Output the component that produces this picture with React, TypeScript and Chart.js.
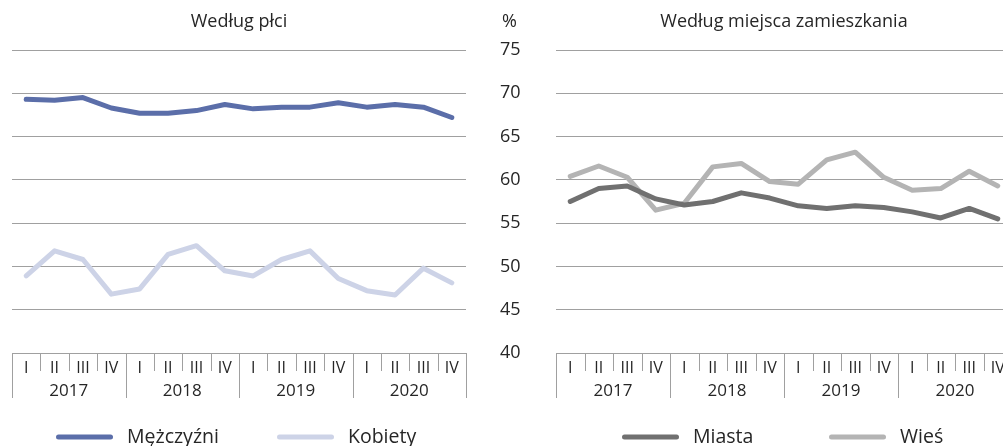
import React, { useEffect, useRef } from 'react';
import { Chart, registerables } from 'chart.js';

Chart.register(...registerables);

const quarters = ['I', 'II', 'III', 'IV', 'I', 'II', 'III', 'IV', 'I', 'II', 'III', 'IV', 'I', 'II', 'III', 'IV'];
const years = ['2017', '2018', '2019', '2020'];

const menValues = [69.3, 69.2, 69.5, 68.3, 67.7, 67.7, 68.0, 68.7, 68.2, 68.4, 68.4, 68.9, 68.4, 68.7, 68.4, 67.2];
const womenValues = [48.9, 51.8, 50.8, 46.8, 47.4, 51.4, 52.4, 49.5, 48.9, 50.8, 51.8, 48.6, 47.2, 46.7, 49.8, 48.1];
const cityValues = [57.5, 59.0, 59.3, 57.8, 57.1, 57.5, 58.5, 57.9, 57.0, 56.7, 57.0, 56.8, 56.3, 55.6, 56.7, 55.5];
const ruralValues = [60.4, 61.6, 60.3, 56.5, 57.3, 61.5, 61.9, 59.8, 59.5, 62.3, 63.2, 60.3, 58.8, 59.0, 61.0, 59.3];

const yMin = 40;
const yMax = 75;
const yStep = 5;

const FONT = '"Open Sans", "Noto Sans", "DejaVu Sans", sans-serif';
const TEXT = '#262626';
const GRID = '#a0a0a0';

type Series = { label: string; data: number[]; color: string; legendX: number };

type PanelOpts = {
  title: string;
  series: Series[];
  showY: boolean;
  padLeft: number;
  padRight: number;
  yWidth: number;
  width: number;
};

function makeDecor(opts: PanelOpts) {
  return {
    id: 'decor',
    afterDraw(chart: any) {
      const ctx = chart.ctx as CanvasRenderingContext2D;
      const { left, right, bottom } = chart.chartArea;
      const xs = chart.scales.x;
      const n = quarters.length;
      const w = (right - left) / n;
      ctx.save();
      // category box dividers
      ctx.strokeStyle = GRID;
      ctx.lineWidth = 1;
      for (let i = 0; i <= n; i++) {
        const x = Math.round(left + i * w) + 0.5;
        const len = i % 4 === 0 ? 45 : 18;
        ctx.beginPath();
        ctx.moveTo(x, bottom);
        ctx.lineTo(x, bottom + len);
        ctx.stroke();
      }
      // quarter labels
      ctx.fillStyle = TEXT;
      ctx.textAlign = 'center';
      ctx.textBaseline = 'middle';
      ctx.font = `16px ${FONT}`;
      quarters.forEach((q, i) => {
        ctx.fillText(q, xs.getPixelForValue(i), bottom + 15);
      });
      ctx.font = `17px ${FONT}`;
      years.forEach((yr, j) => {
        const cx = left + (j * 4 + 2) * w;
        ctx.fillText(yr, cx, bottom + 38);
      });
      // title
      ctx.font = `18px ${FONT}`;
      ctx.fillText(opts.title, (left + right) / 2, 22);
      if (opts.showY) {
        ctx.textAlign = 'left';
        ctx.font = `18px ${FONT}`;
        ctx.fillText('%', 2, 22);
      }
      // legend
      ctx.font = `19.5px ${FONT}`;
      ctx.textAlign = 'left';
      opts.series.forEach((s) => {
        const x0 = left + s.legendX;
        ctx.strokeStyle = s.color;
        ctx.lineWidth = 5;
        ctx.lineCap = 'round';
        ctx.beginPath();
        ctx.moveTo(x0 + 2.5, 437);
        ctx.lineTo(x0 + 54.5, 437);
        ctx.stroke();
        ctx.fillStyle = TEXT;
        ctx.fillText(s.label, x0 + 71, 437);
      });
      ctx.restore();
    },
  };
}

function Panel(props: { opts: PanelOpts; left: number }) {
  const ref = useRef<HTMLCanvasElement | null>(null);
  useEffect(() => {
    const canvas = ref.current;
    if (!canvas) return;
    const o = props.opts;
    const chart = new Chart(canvas, {
      type: 'line',
      data: {
        labels: quarters,
        datasets: o.series.map((s) => ({
          label: s.label,
          data: s.data,
          borderColor: s.color,
          backgroundColor: s.color,
          borderWidth: 5,
          pointRadius: 0,
          tension: 0,
          borderJoinStyle: 'round' as const,
          borderCapStyle: 'round' as const,
        })),
      },
      options: {
        animation: false,
        responsive: false,
        devicePixelRatio: 1,
        layout: { padding: { left: o.padLeft, right: o.padRight, top: 50, bottom: 93 } },
        plugins: {
          legend: { display: false },
          title: { display: false },
          tooltip: { enabled: false },
        },
        scales: {
          x: { type: 'category', offset: true, display: false },
          y: {
            min: yMin,
            max: yMax,
            ticks: {
              stepSize: yStep,
              display: o.showY,
              color: TEXT,
              font: { family: FONT, size: 18 },
              crossAlign: 'far',
              padding: 0,
            },
            grid: { color: GRID, lineWidth: 1, drawTicks: false },
            border: { display: false },
            afterFit: (s: any) => {
              s.width = o.yWidth;
            },
          },
        },
      },
      plugins: [makeDecor(o)],
    } as any);
    return () => chart.destroy();
  }, []);
  return (
    <canvas
      ref={ref}
      width={props.opts.width}
      height={446}
      style={{ position: 'absolute', left: props.left, top: 0, width: props.opts.width, height: 446 }}
    />
  );
}

const leftOpts: PanelOpts = {
  title: 'Według płci',
  series: [
    { label: 'Mężczyźni', data: menValues, color: '#5b6ea9', legendX: 44 },
    { label: 'Kobiety', data: womenValues, color: '#cdd3e7', legendX: 265 },
  ],
  showY: false,
  padLeft: 12,
  padRight: 14,
  yWidth: 0,
  width: 480,
};

const rightOpts: PanelOpts = {
  title: 'Według miejsca zamieszkania',
  series: [
    { label: 'Miasta', data: cityValues, color: '#707070', legendX: 66 },
    { label: 'Wieś', data: ruralValues, color: '#b4b4b4', legendX: 273 },
  ],
  showY: true,
  padLeft: 0,
  padRight: 8,
  yWidth: 56,
  width: 520,
};

export default function App() {
  return (
    <div
      style={{
        position: 'fixed',
        left: 0,
        top: 0,
        width: 1003,
        height: 446,
        overflow: 'hidden',
        background: '#ffffff',
      }}
    >
      <Panel opts={leftOpts} left={0} />
      <Panel opts={rightOpts} left={500} />
    </div>
  );
}
